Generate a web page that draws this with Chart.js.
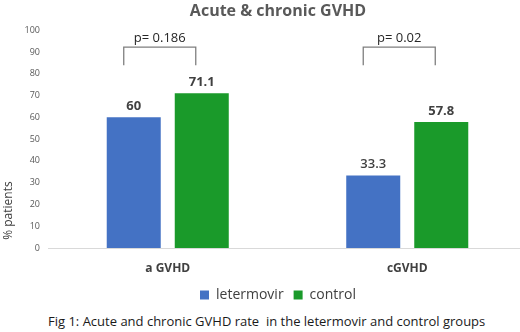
<!DOCTYPE html>
<html>
<head>
<meta charset="utf-8">
<script src="https://cdn.jsdelivr.net/npm/chart.js@4"></script>
<style>
  html, body { margin: 0; padding: 0; background: #fff; overflow: hidden; }
  .page { position: relative; width: 520px; height: 332px; overflow: hidden; }
  .chartBox { position: absolute; left: 0; top: 0; width: 556px; height: 312px; }
  .caption {
    position: absolute; left: 48px; top: 312px; white-space: nowrap;
    font-family: 'Open Sans', sans-serif; font-size: 13px; color: #1a1a1a;
  }
</style>
</head>
<body>
<div class="page">
  <div class="chartBox"><canvas id="chart"></canvas></div>
  <div class="caption">Fig 1: Acute and chronic GVHD rate&nbsp; in the letermovir and control groups</div>
</div>
<script>
const categories = ['a GVHD', 'cGVHD'];
const letermovir = [60, 33.3];
const control = [71.1, 57.8];
const pValues = ['p= 0.186', 'p= 0.02'];
const yTicks = [0, 10, 20, 30, 40, 50, 60, 70, 80, 90, 100];

const FONT = "'Open Sans', sans-serif";
const BLUE = '#4472c4';
const GREEN = '#1a9a2a';

// value labels above bars
const valueLabels = {
  id: 'valueLabels',
  afterDatasetsDraw(chart) {
    const ctx = chart.ctx;
    ctx.save();
    ctx.textAlign = 'center';
    ctx.textBaseline = 'middle';
    ctx.fillStyle = '#404040';
    chart.data.datasets.forEach((ds, di) => {
      chart.getDatasetMeta(di).data.forEach((bar, i) => {
        ctx.font = (ds.data[i] === 33.3 ? '600 ' : 'bold ') + '13px ' + FONT;
        ctx.fillText(String(ds.data[i]), bar.x, bar.y - 11);
      });
    });
    ctx.restore();
  },
};

// p-value brackets
const brackets = {
  id: 'brackets',
  afterDatasetsDraw(chart) {
    const ctx = chart.ctx;
    const y = chart.scales.y;
    const a = chart.getDatasetMeta(0).data;
    const b = chart.getDatasetMeta(1).data;
    const top = y.getPixelForValue(92.2);
    const bottom = y.getPixelForValue(83.9);
    ctx.save();
    ctx.strokeStyle = '#7f7f7f';
    ctx.lineWidth = 1.3;
    pValues.forEach((p, i) => {
      const x1 = a[i].x - 10;
      const x2 = b[i].x - 6;
      ctx.beginPath();
      ctx.moveTo(x1, bottom);
      ctx.lineTo(x1, top);
      ctx.lineTo(x2, top);
      ctx.lineTo(x2, bottom);
      ctx.stroke();
      ctx.font = '13px ' + FONT;
      ctx.fillStyle = '#262626';
      ctx.textAlign = 'center';
      ctx.textBaseline = 'middle';
      ctx.fillText(p, (x1 + x2) / 2, y.getPixelForValue(96.3));
    });
    ctx.restore();
  },
};

// y axis title, placed low like the original
const yTitle = {
  id: 'yTitle',
  afterDraw(chart) {
    const ctx = chart.ctx;
    ctx.save();
    ctx.translate(9, chart.scales.y.getPixelForValue(17.2));
    ctx.rotate(-Math.PI / 2);
    ctx.font = '12px ' + FONT;
    ctx.fillStyle = '#404040';
    ctx.textAlign = 'center';
    ctx.textBaseline = 'middle';
    ctx.fillText('% patients', 0, 0);
    ctx.restore();
  },
};

new Chart(document.getElementById('chart'), {
  type: 'bar',
  data: {
    labels: categories,
    datasets: [
      { label: 'letermovir', data: letermovir, backgroundColor: BLUE },
      { label: 'control', data: control, backgroundColor: GREEN },
    ],
  },
  options: {
    responsive: true,
    maintainAspectRatio: false,
    animation: false,
    categoryPercentage: 0.568,
    barPercentage: 0.794,
    layout: { padding: 0 },
    plugins: {
      title: {
        display: true,
        text: 'Acute & chronic GVHD',
        color: '#595959',
        font: { family: FONT, size: 16, weight: 'bold' },
        padding: { top: 2, bottom: 9 },
      },
      legend: {
        position: 'bottom',
        labels: {
          boxWidth: 9, boxHeight: 9, padding: 10,
          color: '#404040',
          font: { family: FONT, size: 14 },
        },
      },
      tooltip: { enabled: false },
    },
    scales: {
      x: {
        grid: { display: false, drawTicks: false },
        border: { color: '#d9d9d9', width: 1 },
        ticks: { color: '#404040', padding: 13, font: { family: FONT, size: 12, weight: 'bold' } },
        afterFit: (s) => { s.height = 30; },
      },
      y: {
        min: 0,
        max: 100,
        afterBuildTicks: (s) => { s.ticks = yTicks.map((v) => ({ value: v })); },
        grid: { display: false, drawTicks: false },
        border: { display: false },
        ticks: { color: '#595959', padding: 8, font: { family: FONT, size: 9 } },
        afterFit: (s) => { s.width = 48; },
      },
      // empty right axis, only reserves the space on the right of the plot
      yRight: {
        position: 'right',
        min: 0,
        max: 100,
        grid: { display: false, drawTicks: false },
        border: { display: false },
        ticks: { display: false },
        afterFit: (s) => { s.width = 29; },
      },
    },
  },
  plugins: [valueLabels, brackets, yTitle],
});
</script>
</body>
</html>
